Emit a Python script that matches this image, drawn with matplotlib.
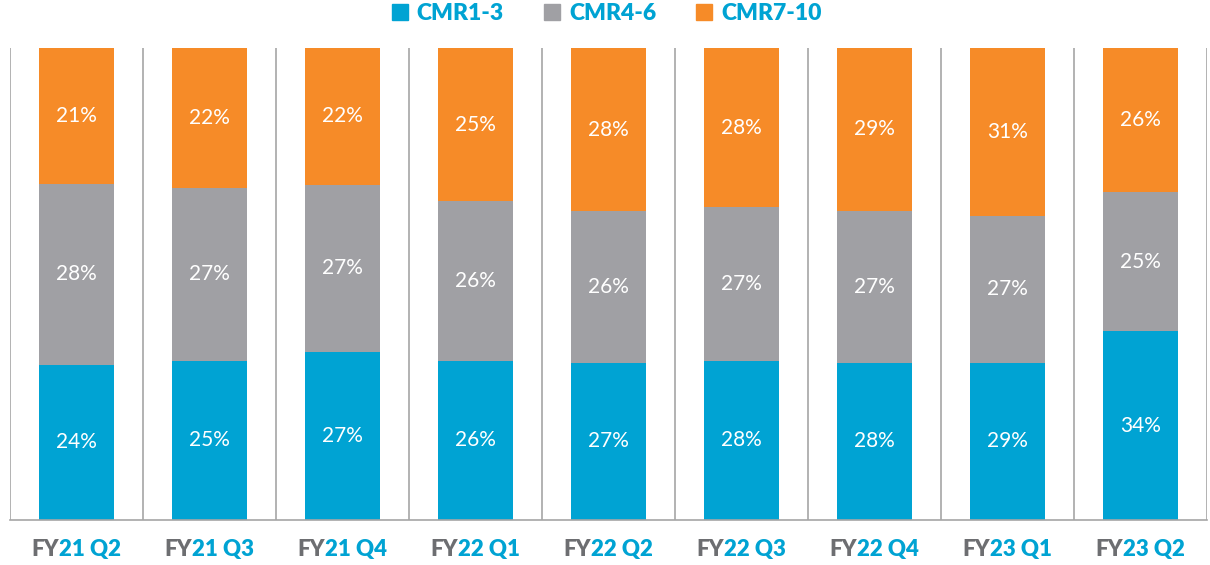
import numpy as np
import matplotlib.pyplot as plt
from matplotlib.lines import Line2D
from matplotlib.transforms import offset_copy

plt.rcParams['font.family'] = ['Lato', 'DejaVu Sans']

quarters = ["FY21 Q2", "FY21 Q3", "FY21 Q4", "FY22 Q1", "FY22 Q2",
            "FY22 Q3", "FY22 Q4", "FY23 Q1", "FY23 Q2"]
cmr1_3 = [24, 25, 27, 26, 27, 28, 28, 29, 34]
cmr4_6 = [28, 27, 27, 26, 26, 27, 27, 27, 25]
cmr7_10 = [21, 22, 22, 25, 28, 28, 29, 31, 26]

names = ["CMR1-3", "CMR4-6", "CMR7-10"]
colors = ["#00A3D3", "#A0A0A4", "#F68B28"]
blue = "#00A3D3"
fy_gray = "#6D6E71"

series = np.array([cmr1_3, cmr4_6, cmr7_10], dtype=float)
share = series / series.sum(axis=0)   # bars are drawn as 100% stacked

fig = plt.figure(figsize=(12.1, 5.65), dpi=100)
ax = fig.add_axes([10/1210, 45/565, 1197/1210, 472/565])

x = np.arange(len(quarters))
bottom = np.zeros(len(quarters))
for i in range(3):
    ax.bar(x, share[i], bottom=bottom, width=0.57, color=colors[i], zorder=2)
    for j in range(len(quarters)):
        ax.text(x[j], bottom[j] + share[i][j] / 2, str(int(series[i][j])) + "%",
                ha='center', va='center', color='white', fontsize=15, zorder=3)
    bottom += share[i]

ax.set_xlim(-0.5, len(quarters) - 0.5)
ax.set_ylim(0, 1)
for b in np.arange(-0.5, len(quarters), 1.0):
    ax.axvline(b, color="#A6A6A6", lw=1.2, zorder=1)
for s in ['top', 'left', 'right']:
    ax.spines[s].set_visible(False)
ax.spines['bottom'].set_color("#A6A6A6")
ax.spines['bottom'].set_linewidth(1.2)
ax.set_xticks([])
ax.set_yticks([])

# two-coloured category labels: "FY" gray, rest blue
parts = []
for j, q in enumerate(quarters):
    t1 = ax.text(x[j], -0.062, q[:2], ha='left', va='center', color=fy_gray,
                 fontsize=16, fontweight='heavy', transform=ax.get_xaxis_transform())
    t2 = ax.annotate(q[2:], xy=(1, 0), xycoords=t1, va='bottom', ha='left',
                     color=blue, fontsize=16, fontweight='heavy')
    parts.append((t1, t2))
fig.canvas.draw()
r = fig.canvas.get_renderer()
for t1, t2 in parts:
    w = t1.get_window_extent(r).width + t2.get_window_extent(r).width
    t1.set_transform(offset_copy(t1.get_transform(), fig=fig, x=-w / 2 * 72 / fig.dpi, units='points'))

handles = [Line2D([], [], marker='s', ls='', color=c, markersize=12) for c in colors]
leg = fig.legend(handles, names, loc='center', bbox_to_anchor=(0.501, 1 - 14/565), ncol=3,
                 frameon=False, handlelength=0.8, handletextpad=0.35, columnspacing=1.7,
                 prop={'size': 16.5, 'weight': 'heavy'})
for t in leg.get_texts():
    t.set_color(blue)

fig.savefig("out.png", dpi=100)
